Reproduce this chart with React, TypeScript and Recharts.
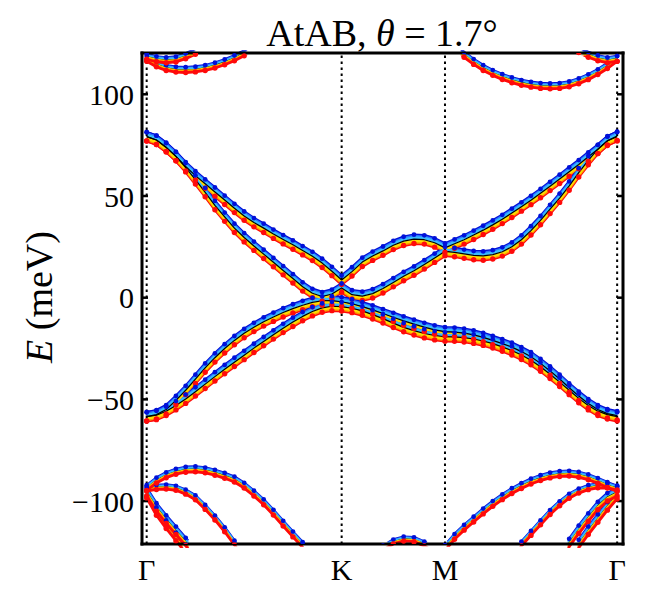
import { LineChart, Line, XAxis, YAxis, ReferenceLine } from 'recharts';

// k-path positions (Γ = 0, K = 1, M = 1.53, Γ = 2.413)
const K_PATH = [
  0, 0.05, 0.1, 0.15, 0.2, 0.25, 0.3, 0.35, 0.4, 0.45, 0.5, 0.55, 0.6, 0.65, 0.7, 0.75, 0.8, 0.85, 0.9, 0.95, 1,
  1.053, 1.106, 1.159, 1.212, 1.265, 1.318, 1.371, 1.424, 1.477, 1.53,
  1.579, 1.628, 1.677, 1.726, 1.775, 1.824, 1.873, 1.922, 1.971, 2.02, 2.069, 2.118, 2.167, 2.216, 2.265, 2.314, 2.363, 2.413,
];
const SYM_POS = [0, 1, 1.53, 2.413];
const SYM_LABELS = ['Γ', 'K', 'M', 'Γ'];
const E_TICKS = [-100, -50, 0, 50, 100];

const _ = null;

// conduction bands (meV)
const C1 = [
  79.2, 77.5, 73.8, 69.5, 64, 58, 51.8, 45.4, 39.7, 34.2, 29.6, 25.4, 21.4, 17.4, 13.4, 9.4, 5.4, 2.2, 0.6, 1.8, 4.8,
  1.5, 0.8, 2, 4.5, 7.5, 10.5, 13.2, 16.3, 19.5, 22.8,
  22.3, 21.5, 20.8, 20.6, 21.2, 22.6, 25, 28.5, 33, 38, 43.5, 49, 55, 61.5, 67.5, 73, 77.2, 79.2,
];
const C2 = [
  79.2, 77.5, 74, 69.5, 64.5, 60, 56, 52, 48, 44, 40.2, 37, 34.2, 31.3, 28.6, 26, 23.2, 20.4, 17, 13, 8.7,
  12.8, 17.5, 20.5, 23, 25.8, 27.8, 28.8, 28.5, 27, 24.5,
  26.5, 28.5, 30.8, 33.2, 35.8, 38.6, 41.6, 44.7, 47.9, 51.3, 54.8, 58.3, 61.9, 65.5, 69.3, 73, 77, 79.5,
];
// valence bands
const VA = [
  -58.5, -57.5, -55, -50.5, -45.5, -40, -34.5, -29.5, -25, -21, -17.5, -14.5, -11.8, -9.5, -7.3, -5.4, -3.7, -2.3, -1.5, -1.4, -2,
  -3, -4.4, -6, -7.8, -9.6, -11.4, -13, -14.5, -15.8, -16.7,
  -16.9, -17.4, -18.3, -19.5, -21, -22.6, -24.3, -26.5, -29, -32.3, -36, -40, -44.3, -48.3, -52, -55, -57, -58,
];
const VB = [
  -58.5, -57.8, -55.8, -53, -49.8, -46.2, -42.5, -38.8, -35.2, -31.7, -28.3, -24.8, -21.5, -18.2, -15, -12, -9.2, -6.8, -5, -4.2, -4.4,
  -5.2, -6.5, -8.3, -10.3, -12.5, -14.6, -16.2, -17.6, -18.6, -19.2,
  -19.3, -19.6, -20.3, -21.3, -22.6, -24.2, -26, -28.2, -30.8, -34, -37.6, -41.5, -45.5, -49.5, -53, -55.8, -57.5, -58.5,
];
// remote bands above
const T1 = [
  118.5, 117.3, 116.8, 117.2, 118.8, 121, 124, 128, _, _, _, _, _, _, _, _, _, _, _, _, _,
  _, _, _, _, _, _, _, _, _, _,
  _, _, _, _, _, _, _, _, _, _, _, _, _, _, _, _, _, _,
];
const T2 = [
  117.5, 114.8, 113, 112.2, 112, 112.3, 113, 114.2, 115.8, 117.8, 120.2, 123, 126, _, _, _, _, _, _, _, _,
  _, _, _, _, _, _, _, _, _, _,
  _, _, _, _, _, _, _, _, _, _, _, _, _, _, _, _, _, _,
];
const T3 = [
  _, _, _, _, _, _, _, _, _, _, _, _, _, _, _, _, _, _, _, _, _,
  _, _, _, _, _, _, _, 139, 134, 129,
  124, 119.5, 116, 113, 110.6, 108.6, 107, 105.7, 104.8, 104.2, 104, 104.2, 105, 106.5, 108.5, 111, 114, 117.5,
];
const T4 = [
  _, _, _, _, _, _, _, _, _, _, _, _, _, _, _, _, _, _, _, _, _,
  _, _, _, _, _, _, _, _, _, _,
  _, _, _, _, _, _, _, _, _, _, _, 129, 125, 121.8, 119.5, 117.8, 116.8, 117.5,
];
// remote bands below
const B1 = [
  -93.5, -89.8, -87.2, -85.5, -84.5, -84.3, -84.8, -86, -87.5, -89.3, -92.3, -96.2, -100.5, -105.6, -111, -116.3, -121.5, -127, -133, _, _,
  _, _, _, _, _, _, _, _, _, _,
  _, _, _, _, _, _, _, _, _, _, _, _, _, _, _, _, _, _,
];
const B2 = [
  -94, -93.2, -93, -93.6, -95.5, -98.3, -103, -108.2, -114, -120.5, -127, _, _, _, _, _, _, _, _, _, _,
  _, _, _, _, _, _, _, _, _, _,
  _, _, _, _, _, _, _, _, _, _, _, _, _, _, _, _, _, _,
];
const B3 = [
  -95.5, -103, -109, -114.5, -120, -126, -132, _, _, _, _, _, _, _, _, _, _, _, _, _, _,
  _, _, _, _, _, _, _, _, _, _,
  _, _, _, _, _, _, _, _, _, _, _, _, _, _, _, _, _, _,
];
const B4 = [
  -96.5, -105, -111.5, -117.5, -123.5, -130, _, _, _, _, _, _, _, _, _, _, _, _, _, _, _,
  _, _, _, _, _, _, _, _, _, _,
  _, _, _, _, _, _, _, _, _, _, _, _, _, _, _, _, _, _,
];
const B5 = [
  _, _, _, _, _, _, _, _, _, _, _, _, _, _, _, _, _, _, _, _, _,
  _, _, _, _, _, _, _, _, _, -123,
  -117.5, -113, -109, -105, -101.3, -98, -95, -92.5, -90.3, -88.6, -87.3, -86.6, -86.4, -87, -88.2, -90, -92, -94,
];
const B6 = [
  _, _, _, _, _, _, _, _, _, _, _, _, _, _, _, _, _, _, _, _, _,
  _, _, _, _, _, _, _, _, _, _,
  _, _, _, _, _, _, -128, -121, -115.8, -110.6, -105.5, -101.2, -97.5, -95, -93.3, -92.4, -92.5, -93.5,
];
const B7 = [
  _, _, _, _, _, _, _, _, _, _, _, _, _, _, _, _, _, _, _, _, _,
  _, _, _, _, _, _, _, _, _, _,
  _, _, _, _, _, _, _, _, _, _, _, -133, -120.5, -114, -108, -102.3, -98, -95.5,
];
const B8 = [
  _, _, _, _, _, _, _, _, _, _, _, _, _, _, _, _, _, _, _, _, _,
  _, _, _, _, _, _, _, _, _, _,
  _, _, _, _, _, _, _, _, _, _, _, _, -131, -121, -114.5, -108.5, -102.5, -97,
];
const B9 = [
  _, _, _, _, _, _, _, _, _, _, _, _, _, _, _, _, _, _, _, _, _,
  _, -135, -128, -123, -120, -118.6, -118.9, -121, -124, -128,
  _, _, _, _, _, _, _, _, _, _, _, _, _, _, _, _, _, _,
];

// core bands: wide fat-band stack; remote bands: narrower, red on top
const BANDS = [
  { key: 'c1', values: C1, spread: 1, core: true },
  { key: 'c2', values: C2, spread: 1, core: true },
  { key: 'va', values: VA, spread: 1, core: true },
  { key: 'vb', values: VB, spread: 1, core: true },
  { key: 't1', values: T1, spread: 0.6, core: false },
  { key: 't2', values: T2, spread: 0.6, core: false },
  { key: 't3', values: T3, spread: 0.6, core: false },
  { key: 't4', values: T4, spread: 0.6, core: false },
  { key: 'b1', values: B1, spread: 0.6, core: false },
  { key: 'b2', values: B2, spread: 0.5, core: false },
  { key: 'b3', values: B3, spread: 0.9, core: false },
  { key: 'b4', values: B4, spread: 0.9, core: false },
  { key: 'b5', values: B5, spread: 0.6, core: false },
  { key: 'b6', values: B6, spread: 0.5, core: false },
  { key: 'b7', values: B7, spread: 0.9, core: false },
  { key: 'b8', values: B8, spread: 0.9, core: false },
  { key: 'b9', values: B9, spread: 0.5, core: false },
];

const DARK_BLUE = { color: '#0010d8', width: 2.6, shift: -4.4, dot: 2.4 };
const BLUE = { color: '#2a72ff', width: 2.6, shift: -3, dot: 0 };
const LIGHT_BLUE = { color: '#38bcff', width: 2.6, shift: -1.6, dot: 0 };
const BLACK = { color: '#000000', width: 1.2, shift: 0, dot: 0 };
const YELLOW = { color: '#ffdc00', width: 2.6, shift: 1.6, dot: 0 };
const ORANGE = { color: '#ff9800', width: 2.6, shift: 3, dot: 0 };
const RED = { color: '#ff0a0a', width: 2.8, shift: 4.4, dot: 2.7 };

const CORE_ORDER = [RED, DARK_BLUE, ORANGE, BLUE, YELLOW, LIGHT_BLUE, BLACK];
const REMOTE_ORDER = [DARK_BLUE, BLUE, LIGHT_BLUE, BLACK, YELLOW, ORANGE, RED];

const data = K_PATH.map((k, i) => {
  const row: Record<string, number | null> = { k };
  BANDS.forEach((b) => {
    row[b.key] = b.values[i];
  });
  return row;
});

const shiftClass = (px: number) => 'ty' + String(Math.round(px * 10)).replace('-', 'm');

// the curve paths get shifted with css, the dots are drawn already offset
const shiftCss = Array.from(
  new Set(BANDS.flatMap((b) => CORE_ORDER.map((l) => l.shift * b.spread)))
)
  .map((px) => {
    const c = shiftClass(px);
    return `.${c} .recharts-curve, path.recharts-curve.${c} { transform: translateY(${px}px); }`;
  })
  .join('\n');

const makeDot = (r: number, color: string, dy: number) => (p: any) => {
  if (p.cx == null || p.cy == null || Number.isNaN(p.cy)) return <g key={p.key} />;
  return <circle key={p.key} cx={p.cx} cy={p.cy + dy} r={r} fill={color} />;
};

const FONT = "'Liberation Serif', 'Times New Roman', serif";
const fmtE = (v: number) => (v < 0 ? '\u2212' + Math.abs(v) : String(v));
const fmtK = (v: number) => SYM_LABELS[SYM_POS.indexOf(v)] ?? '';

export default function App() {
  const lines = [0, 1, 2, 3, 4, 5, 6].flatMap((j) =>
    BANDS.map((b) => {
      const l = (b.core ? CORE_ORDER : REMOTE_ORDER)[j];
      const dy = l.shift * b.spread;
      return (
        <Line
          key={`${b.key}-${j}`}
          className={shiftClass(dy)}
          dataKey={b.key}
          type="linear"
          stroke={l.color}
          strokeWidth={l.width}
          strokeLinejoin="round"
          dot={l.dot ? makeDot(l.dot, l.color, dy) : false}
          activeDot={false}
          isAnimationActive={false}
        />
      );
    })
  );

  return (
    <div style={{ position: 'absolute', left: 0, top: 0, width: 650, height: 602, background: '#fff' }}>
      <style>{shiftCss}</style>
      <LineChart width={650} height={602} data={data} margin={{ top: 0, right: 0, bottom: 0, left: 0 }}>
        <XAxis
          dataKey="k"
          type="number"
          domain={[-0.024, 2.443]}
          allowDataOverflow
          ticks={SYM_POS}
          tickFormatter={fmtK}
          interval={0}
          height={58}
          tickLine={false}
          tickSize={0}
          tickMargin={15}
          axisLine={{ stroke: '#000', strokeWidth: 3, strokeLinecap: 'square' }}
          tick={{ fill: '#000', fontSize: 30, fontFamily: FONT }}
        />
        <XAxis
          xAxisId="t"
          orientation="top"
          type="number"
          domain={[-0.024, 2.443]}
          allowDataOverflow
          height={53}
          tick={false}
          tickLine={false}
          axisLine={{ stroke: '#000', strokeWidth: 3, strokeLinecap: 'square' }}
        />
        <YAxis
          type="number"
          domain={[-121.1, 120.3]}
          allowDataOverflow
          ticks={E_TICKS}
          tickFormatter={fmtE}
          interval={0}
          width={142}
          tickSize={-6}
          tickMargin={14}
          axisLine={{ stroke: '#000', strokeWidth: 3, strokeLinecap: 'square' }}
          tickLine={{ stroke: '#000', strokeWidth: 2.5 }}
          tick={{ fill: '#000', fontSize: 30, fontFamily: FONT }}
        />
        <YAxis
          yAxisId="r"
          orientation="right"
          type="number"
          domain={[-121.1, 120.3]}
          allowDataOverflow
          ticks={E_TICKS}
          tickFormatter={() => ''}
          interval={0}
          width={27}
          tickSize={-6}
          axisLine={{ stroke: '#000', strokeWidth: 3, strokeLinecap: 'square' }}
          tickLine={{ stroke: '#000', strokeWidth: 2.5 }}
        />
        {lines}
        {SYM_POS.map((x, i) => (
          <ReferenceLine key={i} x={x} stroke="#000" strokeWidth={2} strokeDasharray="2.5 3.5" />
        ))}
      </LineChart>
      <svg
        width={650}
        height={602}
        style={{ position: 'absolute', left: 0, top: 0, pointerEvents: 'none' }}
        fontFamily={FONT}
      >
        <text x={382} y={46} textAnchor="middle" fontSize={38} fill="#000">
          AtAB, <tspan fontStyle="italic">θ</tspan> = 1.7°
        </text>
        <text x={52} y={297} transform="rotate(-90, 52, 297)" textAnchor="middle" fontSize={38} fill="#000">
          <tspan fontStyle="italic">E</tspan> (meV)
        </text>
      </svg>
    </div>
  );
}
